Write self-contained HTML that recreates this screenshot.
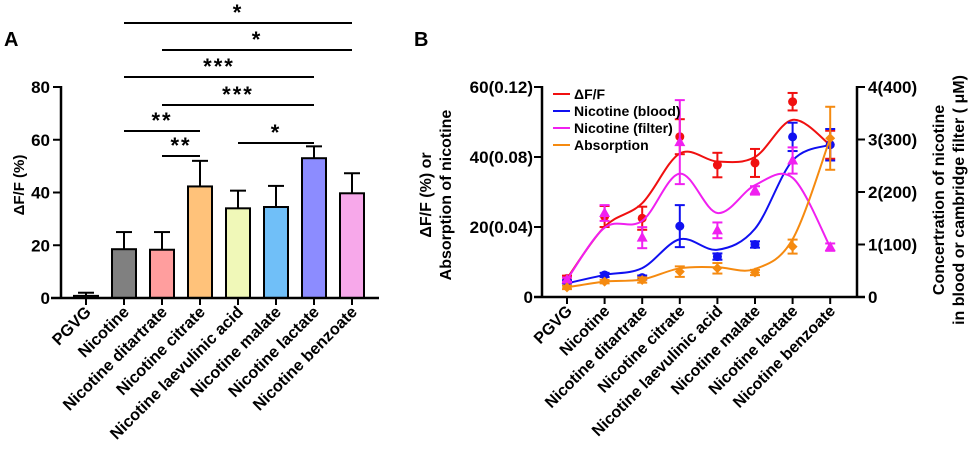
<!DOCTYPE html>
<html><head><meta charset="utf-8"><style>
body{margin:0;background:#fff}
svg{display:block;font-family:"Liberation Sans",Arial,sans-serif;font-weight:bold}
</style></head><body>
<svg id="s" width="969" height="450" viewBox="0 0 969 450"></svg>
<script>
const categories=["PGVG","Nicotine","Nicotine ditartrate","Nicotine citrate","Nicotine laevulinic acid","Nicotine malate","Nicotine lactate","Nicotine benzoate"];
const barValues=[0.8,18.5,18.3,42.3,34,34.5,53,39.7];
const barErrors=[1.2,6.5,6.7,9.7,6.7,8,4.5,7.6];
const barColors=["#777","#808080","#ff9e9e","#ffc27a","#f0f8b8","#70bff8","#8c8cff","#f7a8ea"];
const yTicksA=[0,20,40,60,80];
const sigBrackets=[[1,7,"*",23],[2,7,"*",50],[1,6,"***",77],[2,6,"***",105],[1,3,"**",131],[2,3,"**",156],[4,6,"*",143]];
const dffVals=[5.3,23,22.5,45.8,37.7,38.3,55.8,43.5];
const dffErr=[0.8,3,3.3,5,3.5,4,2.5,4];
const dffCurve=[5.3,20.1,26.8,41,38.7,40,50.6,43.4];
const bloodVals=[0.29,0.42,0.37,1.35,0.77,1.0,3.05,2.9];
const bloodErr=[0.03,0.04,0.04,0.4,0.06,0.06,0.27,0.3];
const bloodCurve=[0.26,0.42,0.55,1.1,0.9,1.3,2.6,2.9];
const filterVals=[0.33,1.6,1.13,2.95,1.27,2.03,2.6,0.95];
const filterErr=[0.04,0.15,0.2,0.8,0.15,0.08,0.25,0.07];
const filterCurve=[0.33,1.32,1.45,2.35,1.6,2.13,2.27,0.95];
const absVals=[0.0055,0.0088,0.0097,0.0145,0.0164,0.014,0.0288,0.0907];
const absErr=[0.001,0.001,0.0015,0.003,0.003,0.0015,0.004,0.018];
const absCurve=[0.0055,0.0088,0.01,0.0164,0.017,0.016,0.033,0.0907];
const yTicksB=["0","20(0.04)","40(0.08)","60(0.12)"];
const yTicksR=["0","1(100)","2(200)","3(300)","4(400)"];

const S=document.getElementById('s');const NS="http://www.w3.org/2000/svg";
function mk(t,a,txt){const e=document.createElementNS(NS,t);for(const k in a)e.setAttribute(k,a[k]);if(txt!=null)e.textContent=txt;S.appendChild(e);return e;}
const xA=i=>86+i*38, yA=v=>298-v*(211/80);
let e;
e=mk('text',{x:4,y:46,'font-size':20},'A');
e=mk('text',{transform:'translate(24,185) rotate(-90)','text-anchor':'middle','font-size':15},'ΔF/F (%)');
categories.forEach((c,i)=>{
 const x=xA(i),v=barValues[i],er=barErrors[i];
 e=mk('line',{x1:x,x2:x,y1:yA(v),y2:yA(v+er),stroke:'#000','stroke-width':2});
 mk('line',{x1:x-8,x2:x+8,y1:yA(v+er),y2:yA(v+er),stroke:'#000','stroke-width':2});
 e=mk('rect',{x:x-12,y:yA(v),width:24,height:yA(0)-yA(v),fill:barColors[i],stroke:'#000','stroke-width':2});
 mk('line',{x1:x,x2:x,y1:298,y2:305,stroke:'#000','stroke-width':2});
 e=mk('text',{transform:`translate(${x+6},${313}) rotate(-45)`,'text-anchor':'end','font-size':16.3},c);
});
e=mk('line',{x1:61,x2:61,y1:86,y2:299,stroke:'#000','stroke-width':2.5});
e=mk('line',{x1:51,x2:379,y1:298,y2:298,stroke:'#000','stroke-width':2.5});
yTicksA.forEach(t=>{mk('line',{x1:53,x2:61,y1:yA(t),y2:yA(t),stroke:'#000','stroke-width':2});
 e=mk('text',{x:50,y:yA(t)+6,'text-anchor':'end','font-size':17},t);});
sigBrackets.forEach(b=>{const x1=xA(b[0]),x2=xA(b[1]);
 e=mk('line',{x1,x2,y1:b[3],y2:b[3],stroke:'#000','stroke-width':2});
 e=mk('text',{x:(x1+x2)/2,y:b[3]-3,'text-anchor':'middle','font-size':22,'letter-spacing':'2'},b[2]);});
const xB=i=>567+i*37.6, yL=v=>297-v*(210/60), yR=v=>297-v*(210/4), yAb=v=>297-v*(210/0.12);
e=mk('text',{x:414,y:46,'font-size':20},'B');
e=mk('text',{transform:'translate(431,195) rotate(-90)','text-anchor':'middle','font-size':16},'ΔF/F (%) or');
e=mk('text',{transform:'translate(451,195) rotate(-90)','text-anchor':'middle','font-size':16},'Absorption of nicotine');
e=mk('text',{transform:'translate(944,200) rotate(-90)','text-anchor':'middle','font-size':16},'Concertration of nicotine');
e=mk('text',{transform:'translate(964,200) rotate(-90)','text-anchor':'middle','font-size':16},'in blood or cambridge filter ( μM)');
function spline(pts){let d=`M${pts[0][0]},${pts[0][1]}`;for(let i=0;i<pts.length-1;i++){const p0=pts[Math.max(i-1,0)],p1=pts[i],p2=pts[i+1],p3=pts[Math.min(i+2,pts.length-1)];
 d+=` C${p1[0]+(p2[0]-p0[0])/6},${p1[1]+(p2[1]-p0[1])/6} ${p2[0]-(p3[0]-p1[0])/6},${p2[1]-(p3[1]-p1[1])/6} ${p2[0]},${p2[1]}`;}return d;}
const series=[
 {n:'dff',c:'#f01010',v:dffVals,e:dffErr,cu:dffCurve,y:yL,m:'circle'},
 {n:'blood',c:'#1010f0',v:bloodVals,e:bloodErr,cu:bloodCurve,y:yR,m:'circle'},
 {n:'filter',c:'#f020f0',v:filterVals,e:filterErr,cu:filterCurve,y:yR,m:'tri'},
 {n:'absorption',c:'#f58a10',v:absVals,e:absErr,cu:absCurve,y:yAb,m:'diamond'}];
series.forEach(s=>{
 e=mk('path',{d:spline(s.cu.map((v,i)=>[xB(i),s.y(v)])),fill:'none',stroke:s.c,'stroke-width':2});
 s.v.forEach((v,i)=>{const x=xB(i),y1=s.y(v+s.e[i]),y2=s.y(v-s.e[i]);
  mk('line',{x1:x,x2:x,y1,y2,stroke:s.c,'stroke-width':2});
  mk('line',{x1:x-5,x2:x+5,y1,y2:y1,stroke:s.c,'stroke-width':2});
  mk('line',{x1:x-5,x2:x+5,y1:y2,y2,stroke:s.c,'stroke-width':2});
  const y=s.y(v);
  if(s.m=='circle')e=mk('circle',{cx:x,cy:y,r:4.5,fill:s.c});
  else if(s.m=='tri')e=mk('polygon',{points:`${x},${y-6} ${x-5.5},${y+4} ${x+5.5},${y+4}`,fill:s.c});
  else e=mk('polygon',{points:`${x},${y-5} ${x+5},${y} ${x},${y+5} ${x-5},${y}`,fill:s.c});
  });
});
e=mk('line',{x1:542,x2:542,y1:86,y2:298,stroke:'#000','stroke-width':2.5});
e=mk('line',{x1:857,x2:857,y1:86,y2:298,stroke:'#000','stroke-width':2.5});
e=mk('line',{x1:534,x2:865,y1:297,y2:297,stroke:'#000','stroke-width':2.5});
yTicksB.forEach((t,i)=>{const y=yL(i*20);mk('line',{x1:534,x2:542,y1:y,y2:y,stroke:'#000','stroke-width':2});
 e=mk('text',{x:533,y:y+6,'text-anchor':'end','font-size':17},t);});
yTicksR.forEach((t,i)=>{const y=yR(i);mk('line',{x1:857,x2:865,y1:y,y2:y,stroke:'#000','stroke-width':2});
 e=mk('text',{x:868,y:y+6,'font-size':17},t);});
categories.forEach((c,i)=>{const x=xB(i);mk('line',{x1:x,x2:x,y1:297,y2:304,stroke:'#000','stroke-width':2});
 e=mk('text',{transform:`translate(${x+6},${312}) rotate(-45)`,'text-anchor':'end','font-size':16},c);});
const legendNames=["ΔF/F","Nicotine (blood)","Nicotine (filter)","Absorption"];
series.forEach((s,i)=>{const y=94+i*17;
 e=mk('line',{x1:553,x2:570,y1:y,y2:y,stroke:s.c,'stroke-width':2});
 e=mk('text',{x:574,y:y+5,'font-size':14},legendNames[i]);});
</script>
</body></html>
